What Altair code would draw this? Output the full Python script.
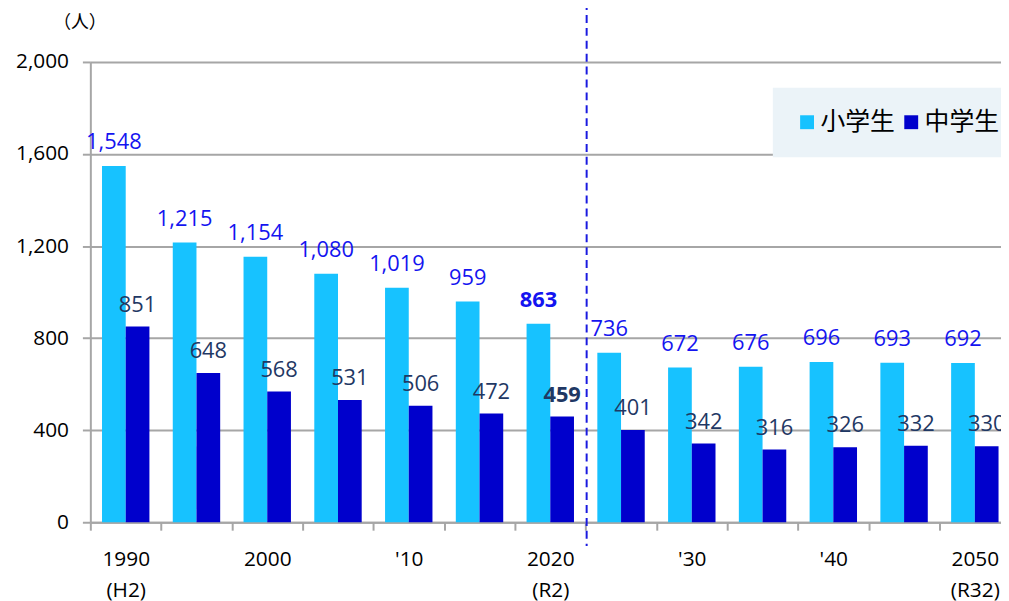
import json
import altair as alt
import pandas as pd

# ---- data -------------------------------------------------------------
years = ["1990", "1995", "2000", "2005", "2010", "2015", "2020",
         "2025", "2030", "2035", "2040", "2045", "2050"]
elementary = [1548, 1215, 1154, 1080, 1019, 959, 863, 736, 672, 676, 696, 693, 692]
middle = [851, 648, 568, 531, 506, 472, 459, 401, 342, 316, 326, 332, 330]
tick_labels = ["1990|(H2)", "", "2000", "", "'10", "", "2020|(R2)",
               "", "'30", "", "'40", "", "2050|(R32)"]
series = ["小学生", "中学生"]
y_ticks = [0, 400, 800, 1200, 1600, 2000]
highlight_year = "2020"
divider_year = "2025"
divider_top = 2260
divider_bottom = -103

rows = []
for y, e, m in zip(years, elementary, middle):
    rows.append({"year": y, "series": series[0], "value": e})
    rows.append({"year": y, "series": series[1], "value": m})
df = pd.DataFrame(rows)
df_div = pd.DataFrame({"year": [divider_year], "value": [divider_top], "value2": [divider_bottom]})

NUM_FONT = "Open Sans"
CJK_FONT = "Noto Sans CJK JP"
GRID = "#A6A6A6"

L = "[" + ",".join(json.dumps(l) for l in tick_labels) + "]"
Y = "[" + ",".join(json.dumps(y) for y in years) + "]"
label_expr = (f"indexof({Y}, datum.value) < 0 ? '' : "
              f"split({L}[indexof({Y}, datum.value)], '|')")

# The last group runs up to the right edge of the plot; the band layout is
# set so that the step stays close to the original.
PLOT_W = 918
STEP = 71.33
PAD_IN = 0.33
n = len(years)
outer_total = PLOT_W / STEP - (n - PAD_IN)          # in steps
PAD_OUT = outer_total / 2
HALF_GAP = PAD_IN * STEP / 2                          # px
ALIGN = HALF_GAP / (outer_total * STEP)

x_scale = alt.Scale(domain=years, paddingInner=PAD_IN, paddingOuter=PAD_OUT, align=ALIGN)
x_enc = alt.X(
    "year:O", sort=years, scale=x_scale,
    axis=alt.Axis(
        title=None, labelExpr=label_expr, bandPosition=0, tickOffset=-HALF_GAP,
        labelOffset=HALF_GAP, labelAngle=0,
        labelOverlap=False, labelFont=NUM_FONT, labelFontSize=21, labelColor="black",
        labelPadding=19, labelLineHeight=31, domainColor=GRID, domainWidth=2,
        tickColor=GRID, tickWidth=2, tickSize=8, grid=False,
    ),
)
xoff = alt.XOffset("series:N", sort=series,
                   scale=alt.Scale(domain=series, paddingInner=0, paddingOuter=0))
y_enc = alt.Y(
    "value:Q", scale=alt.Scale(domain=[0, 2000], nice=False),
    axis=alt.Axis(
        values=y_ticks, format=",.0f", title="（人）", titleAngle=0, titleX=-11, titleY=-40,
        titleAlign="center", titleBaseline="middle", titleFont=CJK_FONT, titleFontSize=18,
        titleFontWeight="normal", titleColor="black",
        labelFont=NUM_FONT, labelFontSize=21, labelColor="black", labelPadding=14,
        gridColor=GRID, gridWidth=2, domainColor=GRID, domainWidth=2,
        tickColor=GRID, tickWidth=2, tickSize=8,
    ),
)

bars = alt.Chart(df).mark_bar().encode(
    x=x_enc, xOffset=xoff, y=y_enc,
    color=alt.Color(
        "series:N", sort=series,
        scale=alt.Scale(domain=series, range=["#17C2FF", "#0000CC"]),
        legend=alt.Legend(
            title=None, orient="none", legendX=688, legendY=26, direction="horizontal",
            symbolType="square", symbolSize=196, symbolStrokeWidth=0,
            labelFont=CJK_FONT, labelFontSize=25, labelColor="black", labelOffset=1,
            columnPadding=3, padding=22, fillColor="#EBF3F8",
        ),
    ),
)


def label_layer(which, dy, color, bold):
    cond = (alt.datum.year == highlight_year) if bold else (alt.datum.year != highlight_year)
    return alt.Chart(df).transform_filter(alt.datum.series == series[which]).transform_filter(cond).mark_text(
        baseline="alphabetic", dy=dy, fontSize=22, font=NUM_FONT, color=color,
        fontWeight="bold" if bold else "normal",
    ).encode(x=x_enc, xOffset=xoff, y=y_enc, text=alt.Text("value:Q", format=","))


elem_text = label_layer(0, -17, "#1414F0", False)
elem_bold = label_layer(0, -17, "#1414F0", True)
mid_text = label_layer(1, -15, "#1F3864", False)
mid_bold = label_layer(1, -15, "#1F3864", True)

# divider sits on the boundary between 2020 and 2025
divider = alt.Chart(df_div).mark_rule(
    color="#1A1AE0", strokeDash=[8, 5], strokeWidth=2, xOffset=-HALF_GAP + 1
).encode(
    x=alt.X("year:O", bandPosition=0),
    y=y_enc,
    y2="value2:Q",
)

chart = alt.layer(bars, elem_text, elem_bold, mid_text, mid_bold, divider).properties(
    width=PLOT_W, height=464,
    autosize=alt.AutoSizeParams(type="none"),
    padding={"left": 83, "top": 52, "right": 0, "bottom": 77},
    background="white",
).configure_view(stroke=None)

chart.save("out.html", embed_options={"renderer": "svg", "actions": False})
